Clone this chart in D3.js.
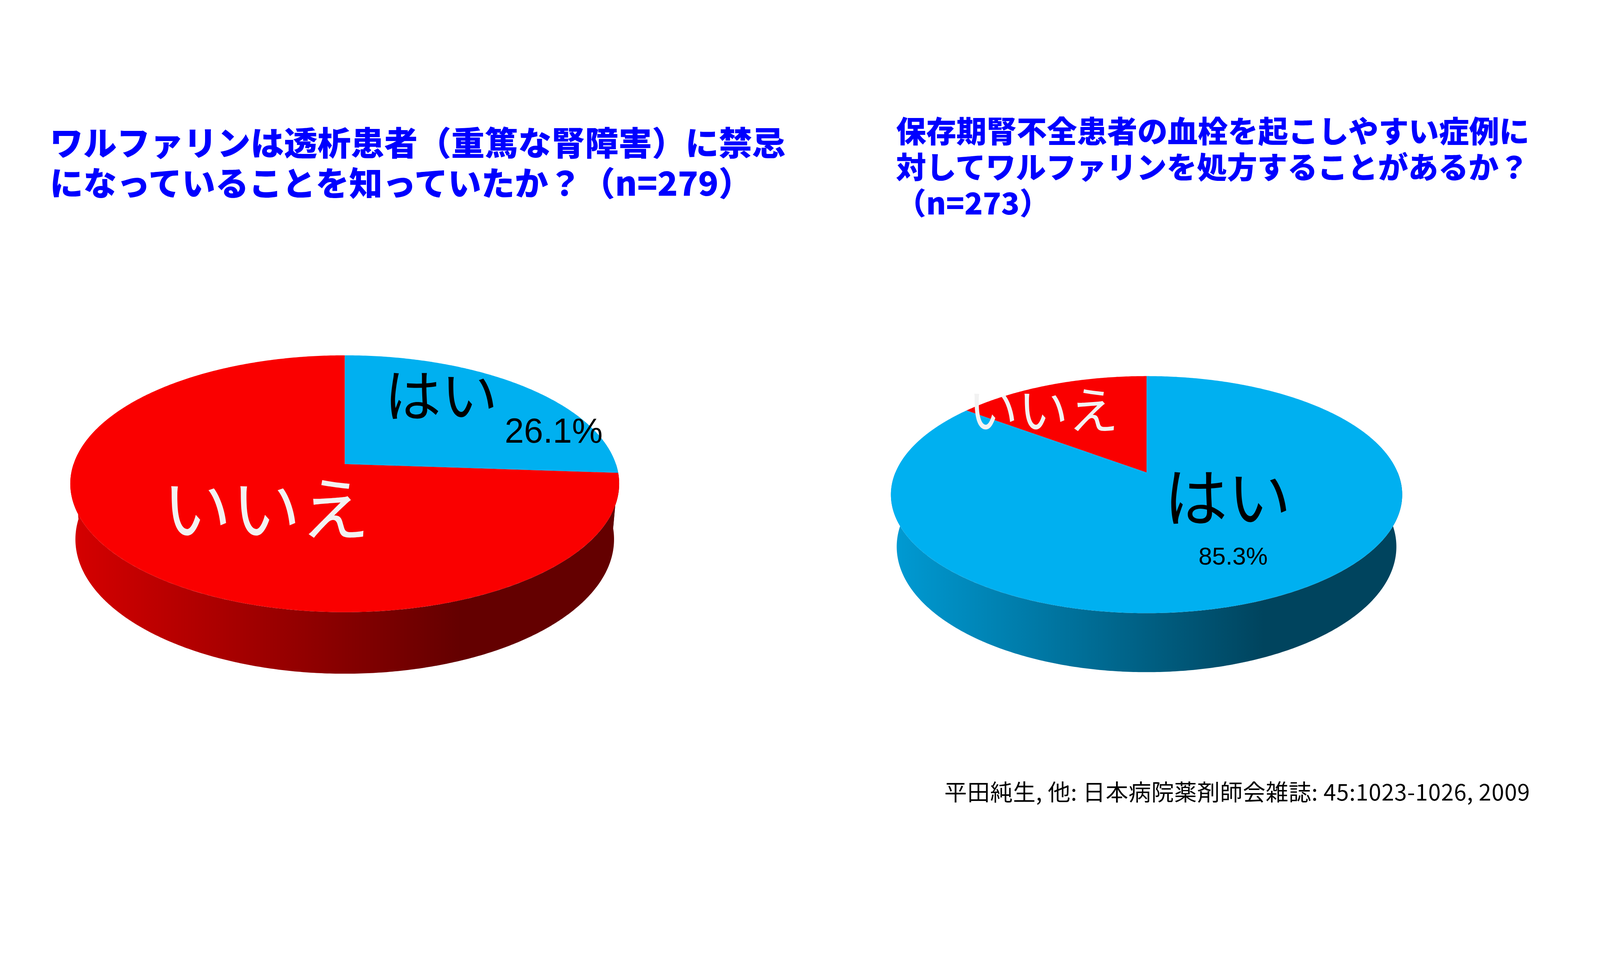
<!DOCTYPE html>
<html>
<head>
<meta charset="utf-8">
<script src="https://cdn.jsdelivr.net/npm/d3@7"></script>
<style>
  html, body { margin: 0; padding: 0; overflow: hidden; background: #ffffff; }
  #chart svg { display: block; width: 100vw; height: calc(100vw * 2475 / 4400); }
</style>
</head>
<body>
<div id="chart"></div>
<script>
// Data
var categories = ["はい", "いいえ"];
var dialysisValues = [26.1, 73.9];   // n=279
var ckdValues = [85.3, 14.7];        // n=273
var dialysisTitle = ["ワルファリンは透析患者（重篤な腎障害）に禁忌",
                     "になっていることを知っていたか？（n=279）"];
var ckdTitle = ["保存期腎不全患者の血栓を起こしやすい症例に",
                "対してワルファリンを処方することがあるか？",
                "（n=273）"];
var sourceNote = "平田純生, 他: 日本病院薬剤師会雑誌: 45:1023-1026, 2009";

var width = 4400, height = 2475;
var jpFont = "'Noto Sans CJK JP', 'Noto Sans', sans-serif";
var numFont = "'Liberation Sans', Arial, sans-serif";

var topColor = d3.scaleOrdinal().domain(categories).range(["#00b0f0", "#fa0000"]);
var sideColor = d3.scaleOrdinal().domain(categories).range([
  [["0", "#009bd4"], ["0.73", "#00445e"], ["1", "#00445e"]],
  [["0", "#d60000"], ["0.71", "#640000"], ["1", "#640000"]]
]);
var formatPct = function(v) { return d3.format(".1f")(v) + "%"; };

// Layout of each pie: camera, title and label placement
var pies = [
  { id: "q1", values: dialysisValues, title: dialysisTitle,
    cx: 948, cy: 1276, f: 4325, dist: 5.799, elev: 27.54, thick: 0.233,
    titleX: 137, titleY: 428, titleSize: 92, titleStep: 110,
    labels: [ { x: 1057, y: 1146, size: 156, fill: "#000000" },
              { x: 447,  y: 1471, size: 190, fill: "#f2f2f2" } ],
    pct: { x: 1388, y: 1217, size: 95 } },
  { id: "q2", values: ckdValues, title: ckdTitle,
    cx: 3153, cy: 1299, f: 3288, dist: 4.761, elev: 27.09, thick: 0.2345,
    titleX: 2464, titleY: 392, titleSize: 83, titleStep: 99,
    labels: [ { x: 3201, y: 1433, size: 175, fill: "#000000" },
              { x: 2662, y: 1179, size: 138, fill: "#f2f2f2" } ],
    pct: { x: 3296, y: 1552, size: 67 } }
];

var svg = d3.select("#chart").append("svg")
    .attr("viewBox", "0 0 " + width + " " + height)
    .attr("preserveAspectRatio", "xMinYMin meet");

svg.append("rect")
    .attr("width", width)
    .attr("height", height)
    .attr("fill", "#ffffff");

var defs = svg.append("defs");

var pie = d3.pie().sort(null).value(function(d) { return d; });
var closedLine = d3.line().curve(d3.curveLinearClosed);

// perspective projection of a point on a unit-radius pie
// a: angle clockwise from 12 o'clock, r: radius, z: height (0 = top face)
function projector(p) {
  var e = p.elev * Math.PI / 180, s = Math.sin(e), c = Math.cos(e);
  return function(a, r, z) {
    var x = r * Math.sin(a), y = r * Math.cos(a);
    var dep = p.dist + y * c - z * s;
    return [p.cx + p.f * x / dep, p.cy - p.f * (y * s + z * c) / dep];
  };
}

function arcPoints(proj, a0, a1, z) {
  var n = Math.max(2, Math.ceil((a1 - a0) / (Math.PI / 360)));
  return d3.range(n + 1).map(function(i) { return proj(a0 + (a1 - a0) * i / n, 1, z); });
}

pies.forEach(function(p) {
  var proj = projector(p);
  var arcs = pie(p.values);
  var g = svg.append("g").attr("class", "pie-" + p.id);

  // horizontal extent for the side shading
  var rim = arcPoints(proj, 0, 2 * Math.PI, 0);
  var xExt = d3.extent(rim, function(d) { return d[0]; });

  categories.forEach(function(cat, i) {
    var grad = defs.append("linearGradient")
        .attr("id", "side-" + p.id + "-" + i)
        .attr("gradientUnits", "userSpaceOnUse")
        .attr("x1", xExt[0]).attr("x2", xExt[1])
        .attr("y1", 0).attr("y2", 0);
    grad.selectAll("stop")
      .data(sideColor(cat))
      .enter().append("stop")
        .attr("offset", function(d) { return d[0]; })
        .attr("stop-color", function(d) { return d[1]; });
  });

  // side wall (front half only)
  g.append("g").attr("class", "sides")
    .selectAll("path")
    .data(arcs.filter(function(d) {
      return Math.min(d.endAngle, 1.5 * Math.PI) > Math.max(d.startAngle, 0.5 * Math.PI);
    }))
    .enter().append("path")
      .attr("d", function(d) {
        var lo = Math.max(d.startAngle, 0.5 * Math.PI),
            hi = Math.min(d.endAngle, 1.5 * Math.PI);
        var pts = arcPoints(proj, lo, hi, 0)
          .concat(arcPoints(proj, lo, hi, -p.thick).reverse());
        return closedLine(pts);
      })
      .attr("fill", function(d) { return "url(#side-" + p.id + "-" + d.index + ")"; });

  // top face
  g.append("g").attr("class", "slices")
    .selectAll("path")
    .data(arcs)
    .enter().append("path")
      .attr("d", function(d) {
        return closedLine([proj(0, 0, 0)].concat(arcPoints(proj, d.startAngle, d.endAngle, 0)));
      })
      .attr("fill", function(d, i) { return topColor(categories[i]); });

  // category labels
  g.append("g").attr("class", "labels")
    .selectAll("text")
    .data(categories)
    .enter().append("text")
      .attr("x", function(d, i) { return p.labels[i].x; })
      .attr("y", function(d, i) { return p.labels[i].y; })
      .style("font-family", jpFont)
      .style("font-size", function(d, i) { return p.labels[i].size + "px"; })
      .attr("fill", function(d, i) { return p.labels[i].fill; })
      .text(function(d) { return d; });

  // percentage of はい
  g.append("text")
      .attr("x", p.pct.x)
      .attr("y", p.pct.y)
      .style("font-family", numFont)
      .style("font-size", p.pct.size + "px")
      .attr("fill", "#000000")
      .text(formatPct(p.values[0]));

  // question title, one text with a tspan per line
  svg.append("text")
      .attr("class", "title-" + p.id)
      .style("font-family", jpFont)
      .style("font-weight", "900")
      .style("font-size", p.titleSize + "px")
      .attr("fill", "#0000ff")
    .selectAll("tspan")
    .data(p.title)
    .enter().append("tspan")
      .attr("x", p.titleX)
      .attr("y", function(d, i) { return p.titleY + i * p.titleStep; })
      .text(function(d) { return d; });
});

// Source
svg.append("text")
    .attr("x", 4207)
    .attr("y", 2201)
    .attr("text-anchor", "end")
    .attr("textLength", 1610)
    .attr("lengthAdjust", "spacing")
    .style("font-family", jpFont)
    .style("font-size", "62px")
    .attr("fill", "#000000")
    .text(sourceNote);
</script>
</body>
</html>
